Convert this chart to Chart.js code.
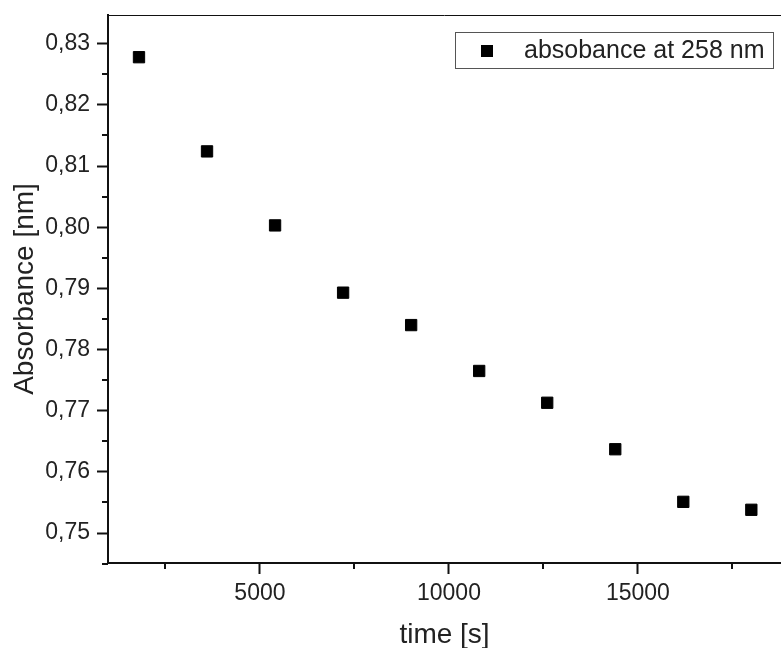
<!DOCTYPE html>
<html>
<head>
<meta charset="utf-8">
<script src="https://cdn.jsdelivr.net/npm/chart.js@4/dist/chart.umd.min.js"></script>
<style>
  html, body { margin: 0; padding: 0; background: #fff; overflow: hidden; }
  #plot { display: block; }
</style>
</head>
<body>
<canvas id="plot" width="781" height="648"></canvas>
<script>
// Measurement times (s) and absorbance readings
const times = [1800, 3600, 5400, 7200, 9000, 10800, 12600, 14400, 16200, 18000];
const absorbance = [0.8278, 0.8124, 0.8003, 0.7893, 0.7840, 0.7765, 0.7713, 0.7637, 0.7551, 0.7538];
const seriesLabel = 'absobance at 258 nm';

// Axis ticks
const xMajorTicks = [5000, 10000, 15000];
const xMinorTicks = [2500, 7500, 12500, 17500];
const yMajorTicks = [0.75, 0.76, 0.77, 0.78, 0.79, 0.80, 0.81, 0.82, 0.83];
const yMinorTicks = [0.745, 0.755, 0.765, 0.775, 0.785, 0.795, 0.805, 0.815, 0.825];

const FONT = "'Liberation Sans', Arial, Helvetica, sans-serif";
const INK = '#111';
const TEXT = '#222';

// Keep the plot frame where the axes place it, without label overhang padding
function clearPadding(scale) {
  scale.paddingTop = 0;
  scale.paddingBottom = 0;
  scale.paddingLeft = 0;
  scale.paddingRight = 0;
}

// Short minor tick marks, the thin top frame line and the boxed legend
const framePlugin = {
  id: 'frame',
  afterDraw(chart) {
    const ctx = chart.ctx;
    const area = chart.chartArea;
    const xs = chart.scales.x, ys = chart.scales.y;
    ctx.save();
    ctx.strokeStyle = INK;
    ctx.lineWidth = 2;
    ctx.beginPath();
    xMinorTicks.forEach(v => {
      const px = Math.round(xs.getPixelForValue(v));
      ctx.moveTo(px, area.bottom);
      ctx.lineTo(px, area.bottom + 6);
    });
    yMinorTicks.forEach(v => {
      const py = Math.round(ys.getPixelForValue(v));
      ctx.moveTo(area.left, py);
      ctx.lineTo(area.left - 6, py);
    });
    ctx.stroke();

    // top frame line
    ctx.lineWidth = 1;
    ctx.beginPath();
    ctx.moveTo(area.left, area.top + 0.5);
    ctx.lineTo(area.right, area.top + 0.5);
    ctx.stroke();

    // legend
    const bx = 455.5, by = 32.5, bw = 318, bh = 36;
    ctx.strokeStyle = '#555';
    ctx.lineWidth = 1;
    ctx.strokeRect(bx, by, bw, bh);
    ctx.fillStyle = '#000';
    ctx.fillRect(481, 45, 12, 12);
    ctx.fillStyle = TEXT;
    ctx.font = '25px ' + FONT;
    ctx.textBaseline = 'middle';
    ctx.textAlign = 'left';
    ctx.fillText(chart.data.datasets[0].label, 524, 51);
    ctx.restore();
  }
};

new Chart(document.getElementById('plot'), {
  type: 'scatter',
  data: {
    datasets: [{
      label: seriesLabel,
      data: times.map((t, i) => ({ x: t, y: absorbance[i] })),
      pointStyle: 'rect',
      pointRadius: 8,
      pointBorderWidth: 1,
      backgroundColor: '#000',
      borderColor: '#000'
    }]
  },
  options: {
    responsive: false,
    animation: false,
    layout: { autoPadding: false, padding: { top: 15, right: 0, bottom: 0, left: 0 } },
    plugins: {
      legend: { display: false },
      tooltip: { enabled: false }
    },
    scales: {
      x: {
        type: 'linear',
        min: 980,
        max: 18785,
        afterFit(scale) { scale.height = 85; clearPadding(scale); },
        afterBuildTicks(scale) { scale.ticks = xMajorTicks.map(v => ({ value: v })); },
        grid: { drawOnChartArea: false, drawTicks: true, tickLength: 11, tickWidth: 2, tickColor: INK },
        border: { display: true, width: 2, color: INK },
        ticks: {
          font: { family: FONT, size: 23 },
          color: TEXT,
          padding: 6,
          maxRotation: 0,
          autoSkip: false,
          callback: v => String(v)
        },
        title: {
          display: true,
          text: 'time [s]',
          font: { family: FONT, size: 28, lineHeight: 0.9 },
          color: TEXT,
          padding: { top: 0, bottom: 0 }
        }
      },
      y: {
        type: 'linear',
        min: 0.7451,
        max: 0.8347,
        afterFit(scale) { scale.width = 108; clearPadding(scale); },
        afterBuildTicks(scale) { scale.ticks = yMajorTicks.map(v => ({ value: v })); },
        grid: { drawOnChartArea: false, drawTicks: true, tickLength: 11, tickWidth: 2, tickColor: INK },
        border: { display: true, width: 2, color: INK },
        ticks: {
          font: { family: FONT, size: 23 },
          color: TEXT,
          padding: 7,
          autoSkip: false,
          callback: v => v.toFixed(2).replace('.', ',')
        },
        title: {
          display: true,
          text: 'Absorbance [nm]',
          font: { family: FONT, size: 28, lineHeight: 0.9 },
          color: TEXT,
          padding: { top: 13, bottom: 0 }
        }
      }
    }
  },
  plugins: [framePlugin]
});
</script>
</body>
</html>
